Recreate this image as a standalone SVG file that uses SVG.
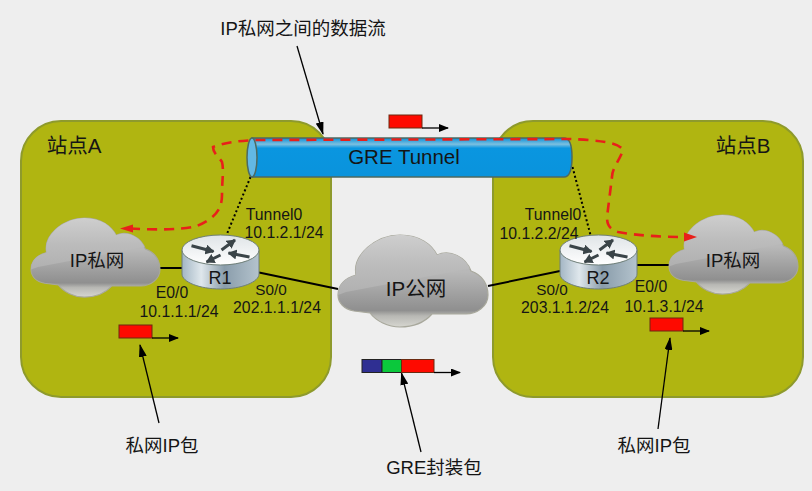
<svg xmlns="http://www.w3.org/2000/svg" width="812" height="491" viewBox="0 0 812 491">
<style>
text{font-family:"Liberation Sans","Noto Sans CJK SC",sans-serif;fill:#151515}
.l{font-size:15.800px;text-anchor:middle}
.s{font-size:15.300px;text-anchor:middle}
.big{font-size:18.500px;text-anchor:middle}
.cap{font-size:18.500px;text-anchor:middle}
.site{fill:#b0b511;stroke:#8e9a2c;stroke-width:2}
.pkt{fill:#fe0a00;stroke:#6b2a10;stroke-width:1}
.ln{fill:none;stroke:#000;stroke-width:1.300}
.th{fill:none;stroke:#000;stroke-width:2}
.dot{fill:none;stroke:#000;stroke-width:2;stroke-dasharray:2 2.500}
.dash{fill:none;stroke:#e8201a;stroke-width:2.600;stroke-dasharray:10 7}
.ra{fill:none;stroke:#3a4448;stroke-width:3;marker-end:url(#ra)}
</style>
<defs>
<marker id="a" markerWidth="10" markerHeight="8" refX="9" refY="4" orient="auto" markerUnits="userSpaceOnUse"><path d="M0 0L10 4L0 8Z" fill="#000"/></marker>
<marker id="b" markerWidth="13" markerHeight="8" refX="12" refY="4" orient="auto" markerUnits="userSpaceOnUse"><path d="M0 0L13 4L0 8Z" fill="#000"/></marker>
<marker id="ra" markerWidth="9" markerHeight="10" refX="8" refY="5" orient="auto" markerUnits="userSpaceOnUse"><path d="M0 0L9 5L0 10Z" fill="#3a4448"/></marker>
<linearGradient id="cg" x1="0" y1="0" x2="0" y2="1"><stop offset="0" stop-color="#cecece"/><stop offset=".5" stop-color="#bcbcbc"/><stop offset="1" stop-color="#b0b0b0"/></linearGradient>
<linearGradient id="cb" x1="0" y1="0" x2="0" y2="1"><stop offset="0" stop-color="#b4b4b4"/><stop offset=".4" stop-color="#b8b8b8"/><stop offset=".82" stop-color="#8f8f8f"/><stop offset=".88" stop-color="#b8b8b4"/><stop offset="1" stop-color="#d6d6d0"/></linearGradient>
<linearGradient id="rs" x1="0" y1="0" x2="1" y2="0"><stop offset="0" stop-color="#a3b6c4"/><stop offset=".25" stop-color="#dfe7ec"/><stop offset=".55" stop-color="#8a9dab"/><stop offset="1" stop-color="#b4c3cd"/></linearGradient>
<linearGradient id="rt" x1="0" y1="0" x2="0" y2="1"><stop offset="0" stop-color="#dfe4e7"/><stop offset="1" stop-color="#ffffff"/></linearGradient>
<linearGradient id="tg" x1="0" y1="0" x2="0" y2="1"><stop offset="0" stop-color="#0a8fd8"/><stop offset=".16" stop-color="#7cc0e0"/><stop offset=".26" stop-color="#0a96e0"/><stop offset="1" stop-color="#0a93dc"/></linearGradient>
<clipPath id="cc"><path d="M0 60C0 48 8 43 18 40C14 20 38 0 62 0C82 0 94 10 99 20C112 14 128 22 133 36C145 40 150 50 150 60C150 72 138 79 128 79L94 79C86 88 74 92 62 92C50 92 38 86 32 78L16 76C6 74 0 68 0 60Z"/></clipPath>
<g id="cloud">
<path d="M0 60C0 48 8 43 18 40C14 20 38 0 62 0C82 0 94 10 99 20C112 14 128 22 133 36C145 40 150 50 150 60C150 72 138 79 128 79L94 79C86 88 74 92 62 92C50 92 38 86 32 78L16 76C6 74 0 68 0 60Z" fill="url(#cb)" stroke="#a8a89c" stroke-width="1.200"/>
<g clip-path="url(#cc)"><path d="M0 0H150V30L8 57L0 60Z" fill="url(#cg)"/></g>
</g>
<g id="router">
<path d="M-38.500 0V24C-38.500 32 -21 39 0 39S38.500 32 38.500 24V0Z" fill="url(#rs)" stroke="#6f7f78" stroke-width="1"/>
<ellipse rx="38.500" ry="15" fill="url(#rt)" stroke="#6f7f78" stroke-width="1"/>
<path class="ra" d="M-29 -4.300L-7 1.500"/>
<path class="ra" d="M1 0L14.500 -10"/>
<path class="ra" d="M0 5L-14 12"/>
<path class="ra" d="M29 7L8 3"/>
</g>
</defs>
<rect width="812" height="491" fill="#eeeeee"/>
<g id="site-a"><rect class="site" x="21" y="121" width="310" height="276" rx="40"/><text x="74" y="153" font-size="20.500" text-anchor="middle">站点A</text></g>
<g id="site-b"><rect class="site" x="493" y="121" width="310" height="276" rx="40"/><text x="743" y="153" font-size="20.500" text-anchor="middle">站点B</text></g>
<g id="connectors">
<path class="th" d="M160 268H182"/>
<path class="th" d="M259 272.500L338 289"/>
<path class="th" d="M488 286L560 271"/>
<path class="th" d="M637 265H670"/>
<path class="dot" d="M250.500 177L226.500 235"/>
<path class="dot" d="M572.500 167L590.500 235"/>
<path class="ln" marker-end="url(#b)" d="M297 46L323 134"/>
<path class="ln" marker-end="url(#b)" d="M159 423L140 345"/>
<path class="ln" marker-end="url(#b)" d="M658 429L670 338"/>
<path class="ln" marker-end="url(#b)" d="M421 452L401.500 373"/>
</g>
<g id="tunnel">
<path d="M252 138H564Q572 138 572 157Q572 177 564 177H252Z" fill="url(#tg)" stroke="#4d6a60" stroke-width="1.500"/>
<ellipse cx="252" cy="157.500" rx="5" ry="19.500" fill="#62b8e4" stroke="#4d6a60" stroke-width="1.500"/>
<text x="404" y="164" font-size="20.500" text-anchor="middle">GRE Tunnel</text>
</g>
<use href="#cloud" id="cloud-a" transform="translate(31 218) scale(.86 .86)"/>
<use href="#cloud" id="cloud-pub" transform="translate(338 235)"/>
<use href="#cloud" id="cloud-b" transform="translate(669 215) scale(.86 .86)"/>
<path class="dash" d="M130 228.500C155 230 180 230 197 226C215 218 222 210 222 195C222 180 224 170 222 162C218 156 213 153 213 147C225 142 240 141 255 140L570 139C590 140 618 141 623 150C620 160 612 168 612 177L607 217C607 226 610 229 618 232C640 236 665 237 688 237"/>
<path fill="#e8201a" d="M120 228.500L133 224.500V232.500Z"/>
<path fill="#e8201a" d="M697 237L684 232.500V241.500Z"/>
<text class="big" x="97" y="267">IP私网</text>
<text class="big" x="416" y="296" style="font-size:20.500px">IP公网</text>
<text class="big" x="733" y="267">IP私网</text>
<g id="r1"><use href="#router" x="220.500" y="250"/><text x="220" y="284" font-size="18" text-anchor="middle">R1</text></g>
<g id="r2"><use href="#router" x="598.500" y="250"/><text x="598" y="284" font-size="18" text-anchor="middle">R2</text></g>
<g id="labels">
<text class="l" x="274" y="220">Tunnel0</text><text class="l" x="284" y="238">10.1.2.1/24</text>
<text class="l" x="172" y="298">E0/0</text><text class="l" x="179" y="317">10.1.1.1/24</text>
<text class="s" x="271" y="295">S0/0</text><text class="l" x="277" y="313">202.1.1.1/24</text>
<text class="l" x="553" y="220">Tunnel0</text><text class="l" x="539" y="239">10.1.2.2/24</text>
<text class="s" x="552" y="295">S0/0</text><text class="l" x="565" y="313">203.1.1.2/24</text>
<text class="l" x="651" y="292">E0/0</text><text class="l" x="664" y="312">10.1.3.1/24</text>
<text class="cap" x="303" y="35">IP私网之间的数据流</text>
<text class="cap" x="162" y="452">私网IP包</text>
<text class="cap" x="654" y="452">私网IP包</text>
<text class="cap" x="434" y="474">GRE封装包</text>
</g>
<g id="packets">
<rect class="pkt" x="389" y="115" width="33" height="13"/><path class="ln" marker-end="url(#a)" d="M422 128H448"/>
<rect class="pkt" x="119" y="325" width="33" height="13"/><path class="ln" marker-end="url(#a)" d="M152 338H178"/>
<rect class="pkt" x="650" y="318" width="33" height="13"/><path class="ln" marker-end="url(#a)" d="M683 331H709"/>
<rect x="362" y="359.500" width="20" height="13" fill="#2f2f92" stroke="#222"/><rect x="382" y="359.500" width="19.500" height="13" fill="#0bc83c" stroke="#222"/><rect class="pkt" x="401.500" y="359.500" width="32.500" height="13"/><path class="ln" marker-end="url(#a)" d="M434 372.500H460"/>
</g>
</svg>
